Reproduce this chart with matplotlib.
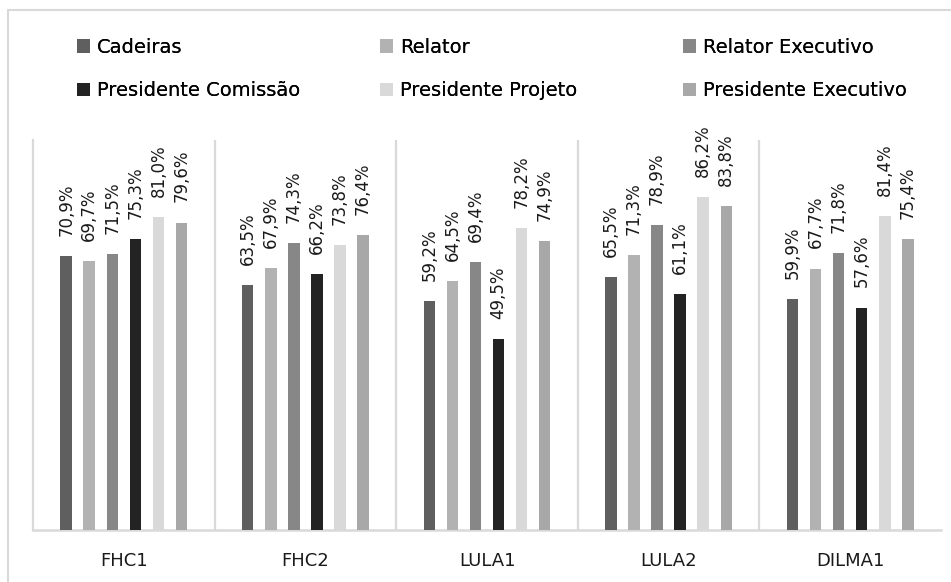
import matplotlib
matplotlib.use('Agg')
from matplotlib import pyplot as plt
from matplotlib.lines import Line2D
import numpy as np

# Categories (governments) and each series' share
governos = ['FHC1', 'FHC2', 'LULA1', 'LULA2', 'DILMA1']
series = ['Cadeiras', 'Relator', 'Relator Executivo',
          'Presidente Comissão', 'Presidente Projeto', 'Presidente Executivo']
cadeiras = [70.9, 63.5, 59.2, 65.5, 59.9]
relator = [69.7, 67.9, 64.5, 71.3, 67.7]
relator_exec = [71.5, 74.3, 69.4, 78.9, 71.8]
pres_comissao = [75.3, 66.2, 49.5, 61.1, 57.6]
pres_projeto = [81.0, 73.8, 78.2, 86.2, 81.4]
pres_exec = [79.6, 76.4, 74.9, 83.8, 75.4]
valores = [cadeiras, relator, relator_exec, pres_comissao, pres_projeto, pres_exec]
cores = ['#5f5f5f', '#b2b2b2', '#878787', '#232323', '#d9d9d9', '#a8a8a8']

W, H = 951, 582
fig = plt.figure(figsize=(W / 100, H / 100), dpi=100)
ax = fig.add_axes([33 / W, 52 / H, 908 / W, 390 / H])

x = np.arange(len(governos))
passo = 0.127
largura = 0.063
barras = []
for i, (nome, vals, cor) in enumerate(zip(series, valores, cores)):
    pos = x + (i - 2.5) * passo
    b = ax.bar(pos, vals, largura, color=cor, label=nome, zorder=3)
    barras.append(b)
    for xp, v in zip(pos, vals):
        ax.annotate(f'{v:.1f}%'.replace('.', ','), (xp, v), xytext=(0, 14.5),
                    textcoords='offset points', rotation=90, ha='center',
                    va='bottom', fontsize=12, color='#1a1a1a')

ax.set_xlim(-0.5, len(governos) - 0.5)
ax.set_ylim(0, 101)
for s in x[:-1] + 0.5:
    ax.axvline(s, color='#d9d9d9', lw=1.6, zorder=1)
for s in ['top', 'right']:
    ax.spines[s].set_visible(False)
ax.spines['left'].set_color('#d9d9d9')
ax.spines['left'].set_linewidth(1.6)
ax.spines['bottom'].set_color('#d9d9d9')
ax.spines['bottom'].set_linewidth(1.8)
ax.set_yticks([])
ax.set_xticks(x)
ax.set_xticklabels(governos, fontsize=13, color='#1a1a1a')
ax.tick_params(axis='x', length=0, pad=16)

# legend: three columns of two entries, placed by hand
col_x = [77, 380, 683]
for c in range(3):
    hs = [barras[c], barras[c + 3]]
    lg = fig.legend(hs, [series[c], series[c + 3]], loc='center left',
                    bbox_to_anchor=(col_x[c] / W, 1 - 69 / H),
                    frameon=False, fontsize=14, borderpad=0, borderaxespad=0,
                    handlelength=0.67, handleheight=0.67, handletextpad=0.36,
                    labelspacing=1.25)
    fig.add_artist(lg)

# light frame on the left and top edges
fig.add_artist(Line2D([8 / W, 8 / W], [0, 1 - 10 / H], transform=fig.transFigure,
                      color='#d9d9d9', lw=1.5))
fig.add_artist(Line2D([8 / W, 1], [1 - 10 / H, 1 - 10 / H], transform=fig.transFigure,
                      color='#d9d9d9', lw=1.5))

fig.savefig('out.png', dpi=100)
